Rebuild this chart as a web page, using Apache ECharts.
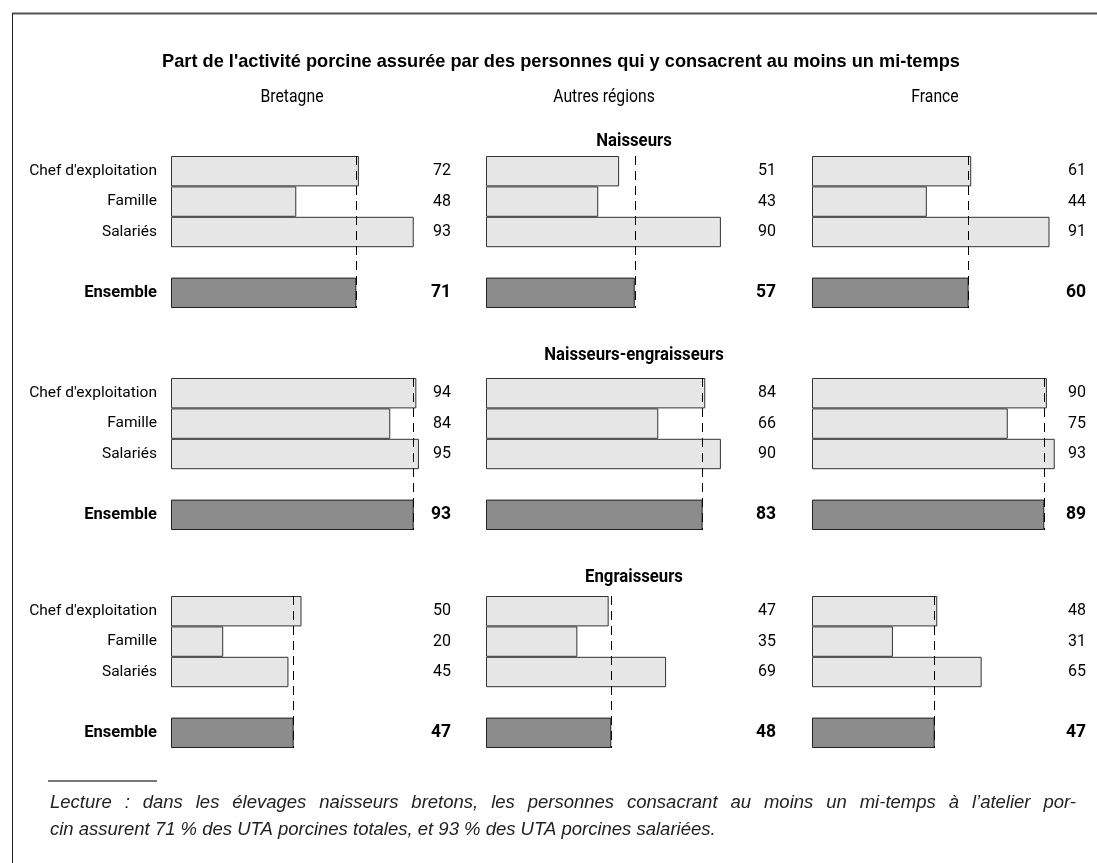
<!DOCTYPE html>
<html>
<head>
<meta charset="utf-8">
<script src="https://cdn.jsdelivr.net/npm/echarts@6/dist/echarts.min.js"></script>
<style>
html,body{margin:0;padding:0;background:#fff;}
#chart{width:1097px;height:863px;}
</style>
</head>
<body>
<div id="chart"></div>
<script>
// ---- Data ----
const categories = ["Chef d'exploitation", "Famille", "Salariés", "", "Ensemble"];
const regions = ["Bretagne", "Autres régions", "France"];
const groups = ["Naisseurs", "Naisseurs-engraisseurs", "Engraisseurs"];
// values per region: [Chef d'exploitation, Famille, Salariés, Ensemble]
const naisseurs = [[72, 48, 93, 71], [51, 43, 90, 57], [61, 44, 91, 60]];
const naisseursEngraisseurs = [[94, 84, 95, 93], [84, 66, 90, 83], [90, 75, 93, 89]];
const engraisseurs = [[50, 20, 45, 47], [47, 35, 69, 48], [48, 31, 65, 47]];
const groupData = [naisseurs, naisseursEngraisseurs, engraisseurs];
const title = "Part de l'activité porcine assurée par des personnes qui y consacrent au moins un mi-temps";
const noteLines = [
  "Lecture : dans les élevages naisseurs bretons, les personnes consacrant au moins un mi-temps à l’atelier por-",
  "cin assurent 71 % des UTA porcines totales, et 93 % des UTA porcines salariées."
];

// ---- Layout ----
const COND = "Roboto,'Liberation Sans',sans-serif";
const SANS = "'Liberation Sans',Arial,sans-serif";
const colLeft = [171, 486, 812];
const colHeaderX = [292, 604, 935];
const valueOffset = [280, 290, 274];
const gridWidth = 261;
const gridTop = [156, 378, 596];
const gridHeight = 152;
const groupHeaderY = [141, 355, 577];

const grids = [], xAxes = [], yAxes = [], series = [];
let idx = 0;
for (let g = 0; g < 3; g++) {
  for (let c = 0; c < 3; c++) {
    const vals = groupData[g][c];
    grids.push({ left: colLeft[c], top: gridTop[g], width: gridWidth, height: gridHeight, containLabel: false });
    xAxes.push({ gridIndex: idx, type: 'value', min: 0, max: 100, show: false });
    yAxes.push({
      gridIndex: idx, type: 'category', data: categories, inverse: true,
      axisLine: { show: false }, axisTick: { show: false }, splitLine: { show: false },
      axisLabel: {
        show: c === 0, margin: 14, color: '#000', fontSize: 15.5, fontFamily: COND,
        formatter: function (v) { return v === 'Ensemble' ? '{b|' + v + '}' : v; },
        rich: { b: { fontWeight: 'bold', fontSize: 16.5, fontFamily: COND, color: '#000' } }
      }
    });
    const light = { color: '#e6e6e6', borderColor: '#333', borderWidth: 1 };
    const dark = { color: '#8c8c8c', borderColor: '#222', borderWidth: 1 };
    const data = [
      { value: vals[0], itemStyle: light },
      { value: vals[1], itemStyle: light },
      { value: vals[2], itemStyle: light },
      '-',
      { value: vals[3], itemStyle: dark, label: { fontWeight: 'bold', fontSize: 17.5 } }
    ];
    series.push({
      type: 'bar', xAxisIndex: idx, yAxisIndex: idx, barCategoryGap: '0%',
      data: data,
      label: {
        show: true, position: [valueOffset[c], '50%'], align: 'right', verticalAlign: 'middle',
        fontSize: 16, fontFamily: COND, color: '#000', formatter: '{c}'
      },
      markLine: {
        silent: true, symbol: ['none', 'none'], label: { show: false },
        lineStyle: { type: [9, 6], color: '#000', width: 1 },
        emphasis: { disabled: true },
        data: [{ xAxis: vals[3] }]
      }
    });
    idx++;
  }
}

const graphics = [
  { type: 'line', shape: { x1: 12, y1: 13.5, x2: 1097, y2: 13.5 }, style: { stroke: '#555', lineWidth: 2 } },
  { type: 'line', shape: { x1: 12.5, y1: 13, x2: 12.5, y2: 863 }, style: { stroke: '#222', lineWidth: 1 } },
  { type: 'text', style: { text: title, x: 561, y: 62, align: 'center', verticalAlign: 'middle', fontSize: 18.2, fontWeight: 'bold', fontFamily: SANS, fill: '#000' } },
  { type: 'line', shape: { x1: 48, y1: 781, x2: 157, y2: 781 }, style: { stroke: '#777', lineWidth: 2 } }
];
regions.forEach(function (r, i) {
  graphics.push({ type: 'text', x: colHeaderX[i], y: 98, scaleX: 0.9, style: { text: r, x: 0, y: 0, align: 'center', verticalAlign: 'middle', fontSize: 17.5, fontFamily: COND, fill: '#000' } });
});
groups.forEach(function (gname, i) {
  graphics.push({ type: 'text', x: 634, y: groupHeaderY[i], scaleX: 0.88, style: { text: gname, x: 0, y: 0, align: 'center', verticalAlign: 'middle', fontSize: 19, fontWeight: 'bold', fontFamily: COND, fill: '#000' } });
});

// Note: first line justified to the text block width, last line left-aligned
const NOTE_FONT_SIZE = 18.5;
const noteFont = 'italic ' + NOTE_FONT_SIZE + 'px ' + SANS;
const noteLeft = 50, noteRight = 1076;
const measureCtx = document.createElement('canvas').getContext('2d');
measureCtx.font = noteFont;
noteLines.forEach(function (t, i) {
  const y = 803 + i * 27;
  if (i < noteLines.length - 1) {
    const words = t.split(' ');
    const widths = words.map(function (w) { return measureCtx.measureText(w).width; });
    const total = widths.reduce(function (a, b) { return a + b; }, 0);
    const gap = (noteRight - noteLeft - total) / (words.length - 1);
    let x = noteLeft;
    words.forEach(function (w, k) {
      graphics.push({ type: 'text', style: { text: w, x: x, y: y, align: 'left', verticalAlign: 'middle', fontSize: NOTE_FONT_SIZE, fontStyle: 'italic', fontFamily: SANS, fill: '#222' } });
      x += widths[k] + gap;
    });
  } else {
    graphics.push({ type: 'text', style: { text: t, x: noteLeft, y: y, align: 'left', verticalAlign: 'middle', fontSize: NOTE_FONT_SIZE, fontStyle: 'italic', fontFamily: SANS, fill: '#222' } });
  }
});

const chart = echarts.init(document.getElementById('chart'), null, { renderer: 'canvas' });
chart.setOption({
  animation: false,
  backgroundColor: '#fff',
  grid: grids, xAxis: xAxes, yAxis: yAxes, series: series,
  graphic: graphics
});
</script>
</body>
</html>
